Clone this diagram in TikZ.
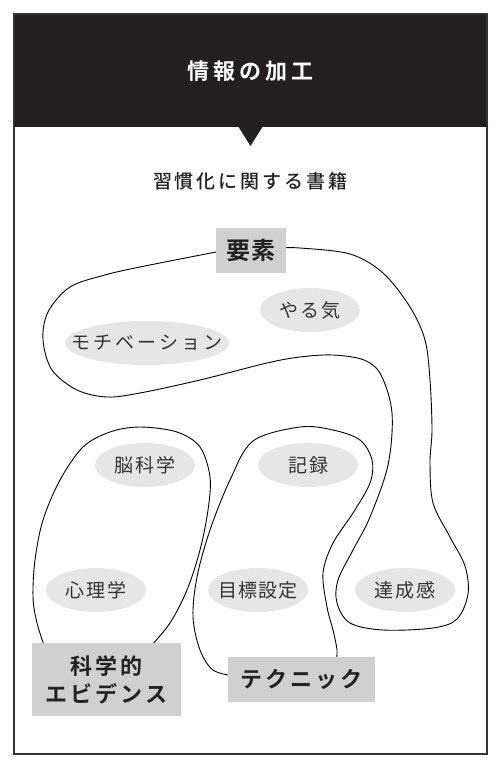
\documentclass[tikz,border=0pt]{standalone}
\usepackage{fontspec}
\newfontfamily\jp{Noto Sans CJK JP}
\newfontfamily\jpm{Noto Sans CJK JP Medium}
\newfontfamily\jpb{Noto Sans CJK JP Bold}
\usetikzlibrary{shapes.geometric}
\definecolor{hdr}{HTML}{231F20}
\definecolor{boxg}{HTML}{D0D0D0}
\definecolor{ellg}{HTML}{E6E6E6}
\definecolor{txt}{HTML}{222222}
\definecolor{etxt}{HTML}{333333}
\definecolor{frm}{HTML}{333333}
\makeatletter
\newcommand\spctext[2]{\def\spc@k{\kern#1}\spc@first#2\relax}
\def\spc@first#1{\ifx#1\relax\else #1\expandafter\spc@next\fi}
\def\spc@next#1{\ifx#1\relax\else\spc@k #1\expandafter\spc@next\fi}
\makeatother
\begin{document}
\begin{tikzpicture}[x=1pt,y=-1pt,
  elabel/.style={ellipse, fill=ellg, minimum width=100pt, minimum height=44pt,
    inner sep=0pt, text=etxt, font=\jp\fontsize{19}{20}\selectfont},
  grpbox/.style={rectangle, fill=boxg, inner sep=0pt, text=txt,
    font=\jpb\fontsize{22}{28}\selectfont},
  blob/.style={draw=black, line width=0.9pt}]
\useasboundingbox (0,0) rectangle (500,770);
\fill[white] (0,0) rectangle (500,770);
% header
\fill[hdr] (14,14) rectangle (487,127);
\fill[hdr] (238,126) -- (263,126) -- (250.5,146) -- cycle;
\draw[frm, line width=1.5pt] (14,14) rectangle (487,754);
\node[text=white, font=\jpb\fontsize{22}{24}\selectfont] (title) at (250.5,71) {\spctext{4pt}{情報の加工}};
\node[text=txt, font=\jpm\fontsize{19}{20}\selectfont] (sub) at (250.5,181) {\spctext{3pt}{習慣化に関する書籍}};
% blobs
\draw[blob] plot[smooth, tension=0.55] coordinates {(280,248) (300,248) (350,254) (383,273) (410,307) (425,340) (430,380) (432,430) (430,463) (433,503) (450,537) (465,566) (468,594) (457,619) (433,628) (383,630) (350,623) (337,603) (338,580) (353,550) (370,517) (388,465) (392,413) (381,375) (364,360) (333,355) (300,357) (267,363) (200,380) (140,393) (107,397) (77,390) (52,370) (43,340) (48,312) (70,287) (105,275) (140,267) (216,252) (222,251)};
\draw[blob] plot[smooth, tension=0.55] coordinates {(45,648) (37,623) (33,597) (35,560) (43,520) (60,480) (83,447) (110,432) (140,427) (177,432) (200,447) (210,477) (208,510) (200,550) (187,590) (170,623) (150,647)};
\draw[blob] plot[smooth, tension=0.55] coordinates {(234,676) (213,670) (200,650) (193,617) (197,577) (210,530) (230,480) (253,441) (300,427) (333,430) (360,440) (372,460) (370,483) (353,513) (333,543) (323,573) (327,607) (333,630) (337,650) (336,662)};
% group boxes
\node[grpbox, minimum width=70pt, minimum height=45pt, font=\jpb\fontsize{24}{26}\selectfont] (yoso) at (251,250.5) {\spctext{1.5pt}{要素}};
\node[grpbox, minimum width=149pt, minimum height=73pt, align=center] (kagaku) at (106.5,679.5) {\spctext{3pt}{科学的}\\\spctext{3pt}{エビデンス}};
\node[grpbox, minimum width=147pt, minimum height=45pt] (teknik) at (301.5,679.5) {\spctext{3pt}{テクニック}};
% ellipses
\node[elabel] (yaruki) at (310,310) {\makebox[0pt]{\spctext{2pt}{やる気}}};
\node[elabel, minimum width=164pt] (moti) at (147,343) {\makebox[0pt]{\spctext{3pt}{モチベーション}}};
\node[elabel] (nou) at (145,465) {\makebox[0pt]{\spctext{2pt}{脳科学}}};
\node[elabel] (kiroku) at (308,465) {\makebox[0pt]{\spctext{2pt}{記録}}};
\node[elabel] (shinri) at (96,590) {\makebox[0pt]{\spctext{2pt}{心理学}}};
\node[elabel] (mokuhyo) at (258,590) {\makebox[0pt]{\spctext{1pt}{目標設定}}};
\node[elabel] (tassei) at (405,590) {\makebox[0pt]{\spctext{2pt}{達成感}}};
\end{tikzpicture}
\end{document}
